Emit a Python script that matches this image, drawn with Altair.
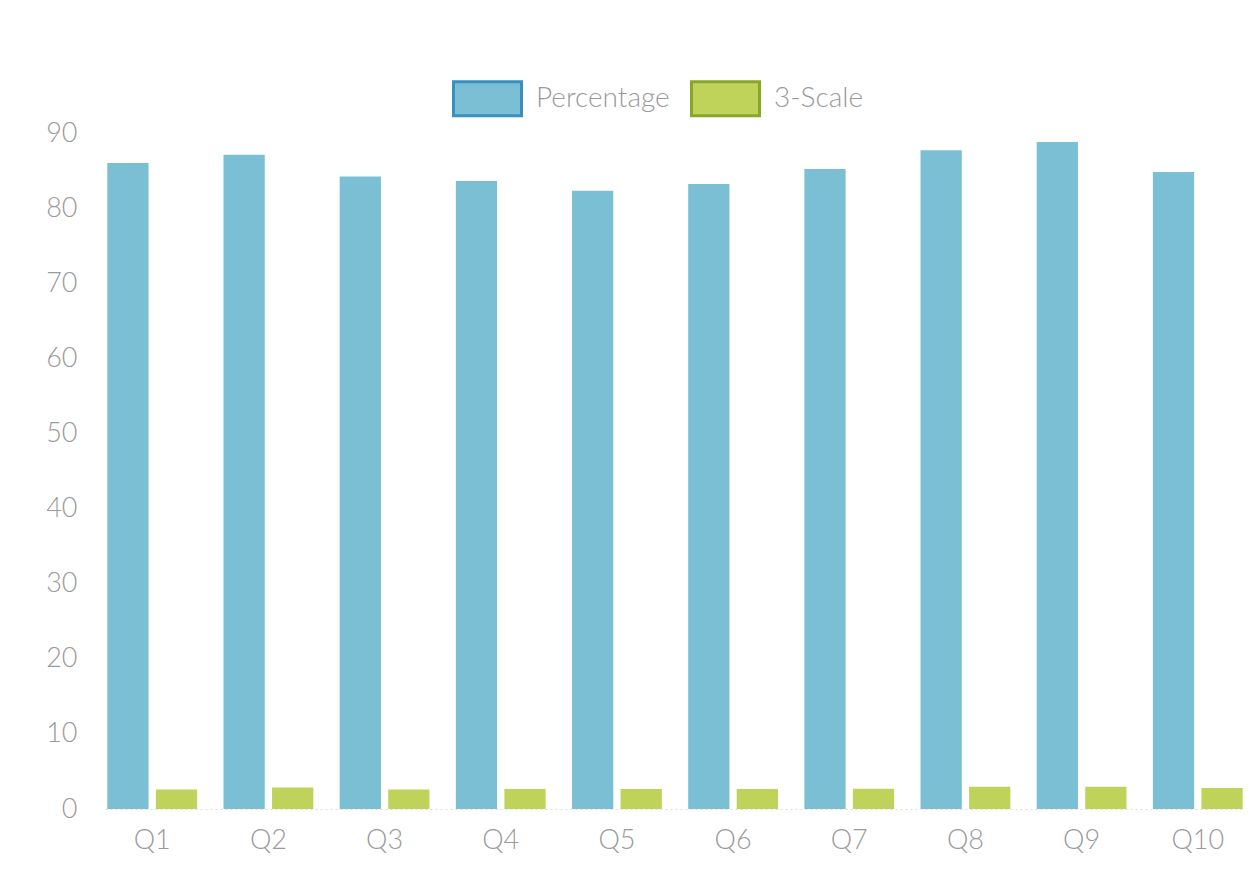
import altair as alt
import pandas as pd

questions = ["Q1", "Q2", "Q3", "Q4", "Q5", "Q6", "Q7", "Q8", "Q9", "Q10"]
percentage = [86.0, 87.1, 84.2, 83.6, 82.3, 83.2, 85.2, 87.7, 88.8, 84.8]
three_scale = [2.6, 2.85, 2.6, 2.65, 2.65, 2.65, 2.7, 2.95, 2.95, 2.8]
series = ["Percentage", "3-Scale"]
fill_colors = ["#7bbfd5", "#bfd35b"]
stroke_colors = ["#3a8fc0", "#8aa52c"]

rows = []
for q, p, s in zip(questions, percentage, three_scale):
    rows.append({"question": q, "series": series[0], "value": p})
    rows.append({"question": q, "series": series[1], "value": s})
df = pd.DataFrame(rows)

FONT = "Lato"
GRAY = "#9a9a9a"

chart = (
    alt.Chart(df)
    .mark_bar(strokeWidth=0)
    .encode(
        x=alt.X(
            "question:N",
            sort=questions,
            title=None,
            scale=alt.Scale(paddingInner=0.227, paddingOuter=0.02),
            axis=alt.Axis(
                labelAngle=0,
                ticks=False,
                labelPadding=18,
                labelFontSize=27,
                labelFont=FONT,
                labelFontWeight=300,
                labelColor=GRAY,
                domainColor="#dddddd",
                domainDash=[2, 3],
                domainWidth=1,
                grid=False,
            ),
        ),
        xOffset=alt.XOffset(
            "series:N",
            sort=series,
            scale=alt.Scale(paddingInner=0.15, paddingOuter=0),
        ),
        y=alt.Y(
            "value:Q",
            title=None,
            scale=alt.Scale(domain=[0, 90], nice=False),
            axis=alt.Axis(
                values=list(range(0, 91, 10)),
                ticks=False,
                domain=False,
                grid=False,
                labelPadding=28,
                labelFontSize=27,
                labelFont=FONT,
                labelFontWeight=300,
                labelColor=GRAY,
            ),
        ),
        color=alt.Color(
            "series:N",
            sort=series,
            scale=alt.Scale(domain=series, range=fill_colors),
            legend=alt.Legend(
                title=None,
                orient="none",
                direction="horizontal",
                legendX=347,
                legendY=-70,
                symbolType="M-1,-0.5H1V0.5H-1Z",
                symbolSize=4624,
                symbolStrokeWidth=3,
                symbolOpacity=1,
                labelFontSize=28,
                labelFont=FONT,
                labelFontWeight=300,
                labelColor=GRAY,
                labelOffset=13,
                columnPadding=15,
                padding=0,
            ),
        ),
        stroke=alt.Stroke(
            "series:N",
            sort=series,
            scale=alt.Scale(domain=series, range=stroke_colors),
            legend=alt.Legend(title=None),
        ),
    )
    .properties(
        width=1140,
        height=676,
        background="white",
        autosize=alt.AutoSizeParams(type="none"),
        padding={"left": 97, "top": 125, "right": 0, "bottom": 60},
    )
    .configure_view(stroke="transparent", strokeWidth=0)
)

chart.save("out.html", embed_options={"renderer": "svg", "actions": False})
